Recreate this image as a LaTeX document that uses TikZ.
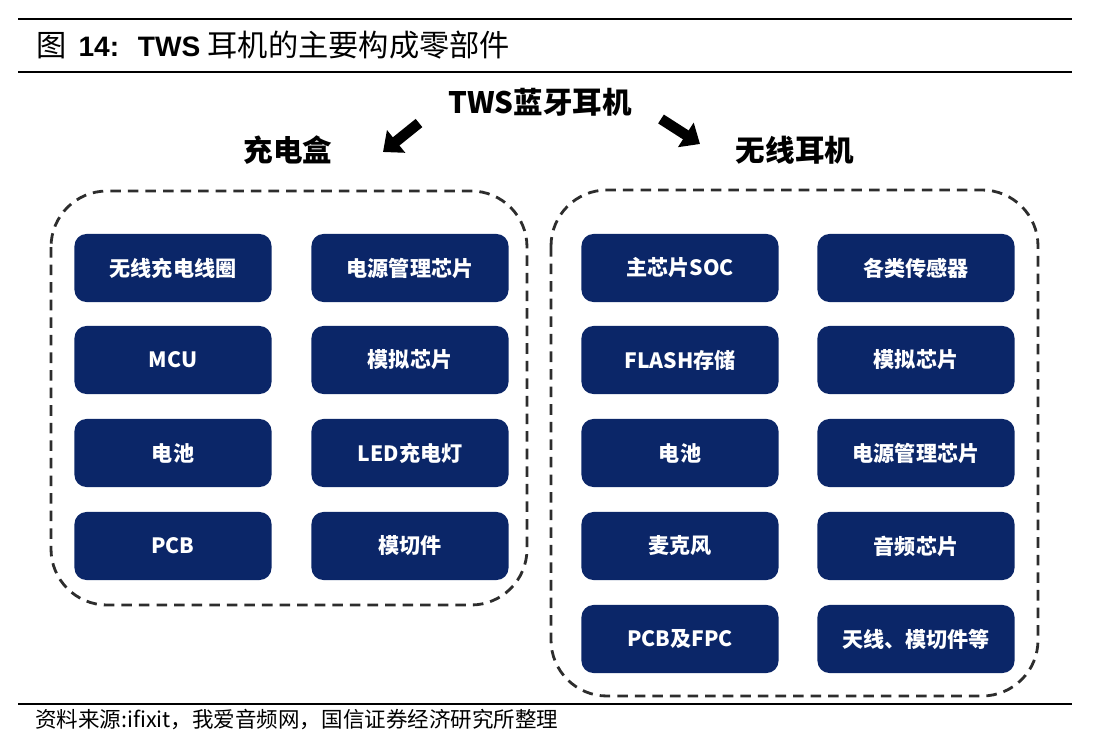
\documentclass[tikz,border=0pt]{standalone}
\usepackage{fontspec}
\setmainfont{Noto Sans CJK SC}
\newfontfamily\arialfont{Liberation Sans}
\usetikzlibrary{arrows.meta}
\definecolor{navy}{RGB}{11,38,104}
\definecolor{dashgray}{RGB}{45,45,45}
\tikzset{
  partbox/.style={fill=navy, text=white, rounded corners=0.3cm, minimum width=4.925cm, minimum height=1.7cm, inner sep=0pt, font=\bfseries\fontsize{15}{15}\selectfont},
  heading/.style={inner sep=0pt, font=\bfseries\fontsize{21}{21}\selectfont},
  groupframe/.style={draw=dashgray, line width=2pt, dash pattern=on 7.5pt off 5pt, rounded corners=1.4cm},
  rule/.style={line width=1.6pt},
  bigarrow/.style={line width=7.5pt, -{Triangle[width=20pt,length=12pt]}}
}

\begin{document}
\begin{tikzpicture}[x=0.025cm, y=-0.025cm]
      \useasboundingbox (0,0) rectangle (1095,748);

      \draw[rule] (18,19) -- (1072,19);
      \draw[rule] (18,72) -- (1072,72);
      \node[anchor=west, inner sep=0pt, font=\fontsize{21.5}{21.5}\selectfont] (title) at (36,45) {图\hspace{0.3cm}{\arialfont\bfseries\fontsize{20}{20}\selectfont 14:}\hspace{0.47cm}{\arialfont\bfseries\fontsize{20}{20}\selectfont TWS}\hspace{0.18cm}耳机的主要构成零部件};

      \node[heading] (tws)  at (540,102) {TWS蓝牙耳机};
      \node[heading] (case) at (288,150) {充电盒};
      \node[heading] (buds) at (795,150) {无线耳机};

      \coordinate (casefrom) at (419,123);
      \coordinate (caseto)   at (383,152);
      \coordinate (budsfrom) at (661,119);
      \coordinate (budsto)   at (700,144);
      \draw[bigarrow] (casefrom) -- (caseto);
      \draw[bigarrow] (budsfrom) -- (budsto);

      \draw[groupframe] (51,191) rectangle (527,605);
      \draw[groupframe] (551,190) rectangle (1038,696);

      \node[partbox] (coil)    at (173,268) {无线充电线圈};
      \node[partbox] (pmicl)   at (410,268) {电源管理芯片};
      \node[partbox] (mcu)     at (173,360) {MCU};
      \node[partbox] (analogl) at (410,360) {模拟芯片};
      \node[partbox] (battl)   at (173,453) {电池};
      \node[partbox] (led)     at (410,453) {LED充电灯};
      \node[partbox] (pcbl)    at (173,546) {PCB};
      \node[partbox] (diel)    at (410,546) {模切件};

      \node[partbox] (soc)     at (680,268) {主芯片SOC};
      \node[partbox] (sensor)  at (916,268) {各类传感器};
      \node[partbox] (flash)   at (680,360) {FLASH存储};
      \node[partbox] (analogr) at (916,360) {模拟芯片};
      \node[partbox] (battr)   at (680,453) {电池};
      \node[partbox] (pmicr)   at (916,453) {电源管理芯片};
      \node[partbox] (mic)     at (680,546) {麦克风};
      \node[partbox] (audio)   at (916,546) {音频芯片};
      \node[partbox] (pcbr)    at (680,639) {PCB及FPC};
      \node[partbox] (antenna) at (916,639) {天线、模切件等};

      \draw[rule] (18,704) -- (1072,704);
      \node[anchor=west, inner sep=0pt, font=\fontsize{15.3}{15.3}\selectfont] (source) at (35,720) {资料来源:ifixit，我爱音频网，国信证券经济研究所整理};
    \end{tikzpicture}
\end{document}
